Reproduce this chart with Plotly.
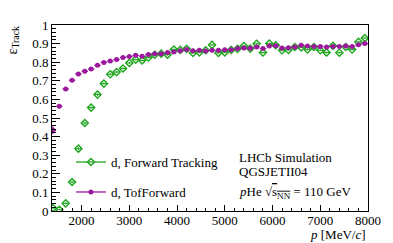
import plotly.graph_objects as go

# momentum bin centres [MeV/c]
p_bins = [1400, 1533, 1667, 1800, 1933, 2067, 2200, 2333, 2467, 2600,
          2733, 2867, 3000, 3133, 3267, 3400, 3533, 3667, 3800, 3933,
          4067, 4200, 4333, 4467, 4600, 4733, 4867, 5000, 5133, 5267,
          5400, 5533, 5667, 5800, 5933, 6067, 6200, 6333, 6467, 6600,
          6733, 6867, 7000, 7133, 7267, 7400, 7533, 7667, 7800, 7933]
p_halfwidth = [66.7] * 50

eff_forward = [0.016, 0.007, 0.041, 0.156, 0.335, 0.473, 0.556, 0.626, 0.685, 0.735,
               0.747, 0.766, 0.796, 0.814, 0.809, 0.825, 0.840, 0.846, 0.840, 0.868,
               0.866, 0.872, 0.850, 0.853, 0.864, 0.893, 0.850, 0.853, 0.866, 0.872,
               0.887, 0.873, 0.899, 0.852, 0.900, 0.891, 0.864, 0.866, 0.882, 0.880,
               0.868, 0.882, 0.864, 0.852, 0.888, 0.851, 0.882, 0.868, 0.909, 0.930]
err_forward = [0.004, 0.003, 0.006, 0.008, 0.008, 0.008, 0.007, 0.007, 0.006, 0.006,
               0.005, 0.005, 0.005, 0.005, 0.005, 0.005, 0.005, 0.005, 0.005, 0.005,
               0.005, 0.005, 0.005, 0.005, 0.005, 0.005, 0.005, 0.005, 0.005, 0.005,
               0.005, 0.005, 0.005, 0.005, 0.005, 0.005, 0.005, 0.005, 0.005, 0.005,
               0.005, 0.005, 0.005, 0.005, 0.005, 0.005, 0.005, 0.005, 0.005, 0.005]

eff_tof = [0.434, 0.563, 0.656, 0.703, 0.737, 0.751, 0.763, 0.783, 0.799, 0.806,
           0.814, 0.825, 0.830, 0.837, 0.832, 0.842, 0.845, 0.846, 0.852, 0.855,
           0.861, 0.868, 0.862, 0.864, 0.860, 0.864, 0.864, 0.867, 0.867, 0.873,
           0.876, 0.875, 0.882, 0.873, 0.887, 0.889, 0.876, 0.878, 0.882, 0.891,
           0.887, 0.885, 0.885, 0.882, 0.885, 0.885, 0.887, 0.885, 0.894, 0.900]
err_tof = [0.022, 0.010, 0.007, 0.006, 0.006, 0.005, 0.005, 0.005, 0.005, 0.005,
           0.004, 0.004, 0.004, 0.004, 0.004, 0.004, 0.004, 0.004, 0.004, 0.004,
           0.004, 0.004, 0.004, 0.004, 0.004, 0.004, 0.004, 0.004, 0.004, 0.004,
           0.004, 0.004, 0.004, 0.004, 0.004, 0.004, 0.004, 0.004, 0.004, 0.004,
           0.004, 0.004, 0.004, 0.004, 0.004, 0.004, 0.004, 0.004, 0.004, 0.004]

x_ticks = [2000, 3000, 4000, 5000, 6000, 7000, 8000]
y_ticks = [0, 0.1, 0.2, 0.3, 0.4, 0.5, 0.6, 0.7, 0.8, 0.9, 1]

GREEN = "#1fa51f"
PURPLE = "#9c189c"
FONT = "Liberation Serif"

fig = go.Figure()

fig.add_trace(go.Scatter(
    x=p_bins, y=eff_forward, mode="markers", showlegend=False,
    marker=dict(symbol="diamond-open", size=5.5, color=GREEN, line=dict(width=1.4, color=GREEN)),
    error_x=dict(type="data", array=p_halfwidth, color=GREEN, thickness=1, width=0),
    error_y=dict(type="data", array=err_forward, color=GREEN, thickness=1, width=0),
    cliponaxis=True,
))
fig.add_trace(go.Scatter(
    x=p_bins, y=eff_tof, mode="markers", showlegend=False,
    marker=dict(symbol="circle", size=5, color=PURPLE),
    error_x=dict(type="data", array=p_halfwidth, color=PURPLE, thickness=1.3, width=0),
    error_y=dict(type="data", array=err_tof, color=PURPLE, thickness=1.3, width=0),
    cliponaxis=True,
))

# legend-only entries
fig.add_trace(go.Scatter(
    x=[None], y=[None], mode="lines+markers", name="d, Forward Tracking",
    marker=dict(symbol="diamond-open", size=5.5, color=GREEN, line=dict(width=1.4, color=GREEN)),
    line=dict(color=GREEN, width=1.3), legend="legend",
))
fig.add_trace(go.Scatter(
    x=[None], y=[None], mode="lines+markers", name="d, TofForward",
    marker=dict(symbol="circle", size=5, color=PURPLE),
    line=dict(color=PURPLE, width=1.3), legend="legend2",
))

axis_common = dict(
    showgrid=False, zeroline=False, showline=True, mirror=True,
    linecolor="black", linewidth=1, ticks="inside", tickcolor="black",
    tickfont=dict(family=FONT, size=13, color="black"),
)

fig.update_xaxes(range=[1380, 8000], tickvals=x_ticks, ticklen=6, ticklabelstandoff=-3,
                 minor=dict(dtick=200, ticklen=3, ticks="inside", tickcolor="black"),
                 **axis_common)
fig.update_yaxes(range=[0, 1], tickvals=y_ticks, ticklen=8,
                 minor=dict(dtick=0.02, ticklen=4, ticks="inside", tickcolor="black"),
                 **axis_common)

legend_common = dict(bgcolor="rgba(0,0,0,0)", borderwidth=0,
                     font=dict(family=FONT, size=13, color="black"),
                     xanchor="left", yanchor="middle", itemwidth=30)
fig.update_layout(
    width=393, height=243,
    margin=dict(l=52, r=20, t=25, b=32),
    paper_bgcolor="white", plot_bgcolor="white",
    legend=dict(x=0.06, y=0.263, **legend_common),
    legend2=dict(x=0.06, y=0.102, **legend_common),
)

ann_font = dict(family=FONT, size=13, color="black")
fig.add_annotation(text="ε<sub>Track</sub>", xref="paper", yref="paper",
                   x=-0.125, y=1.0, xanchor="center", yanchor="top",
                   textangle=-90, showarrow=False, font=dict(family=FONT, size=14, color="black"))
fig.add_annotation(text="<i>p</i> [MeV/<i>c</i>]", xref="paper", yref="paper",
                   x=1.0, y=-0.128, xanchor="right", yanchor="middle",
                   showarrow=False, font=ann_font)
fig.add_annotation(text="LHCb Simulation", xref="paper", yref="paper",
                   x=0.586, y=0.290, xanchor="left", yanchor="middle",
                   showarrow=False, font=ann_font)
fig.add_annotation(text="QGSJETII04", xref="paper", yref="paper",
                   x=0.586, y=0.210, xanchor="left", yanchor="middle",
                   showarrow=False, font=ann_font)
fig.add_annotation(text="<i>p</i>He √<span style=\"text-decoration:overline\">s<sub>NN</sub></span> = 110 GeV",
                   xref="paper", yref="paper",
                   x=0.586, y=0.102, xanchor="left", yanchor="middle",
                   showarrow=False, font=ann_font)

fig.write_html("out.html", config={"displayModeBar": False},
               post_script="document.body.style.margin='0';document.body.style.padding='0';")
